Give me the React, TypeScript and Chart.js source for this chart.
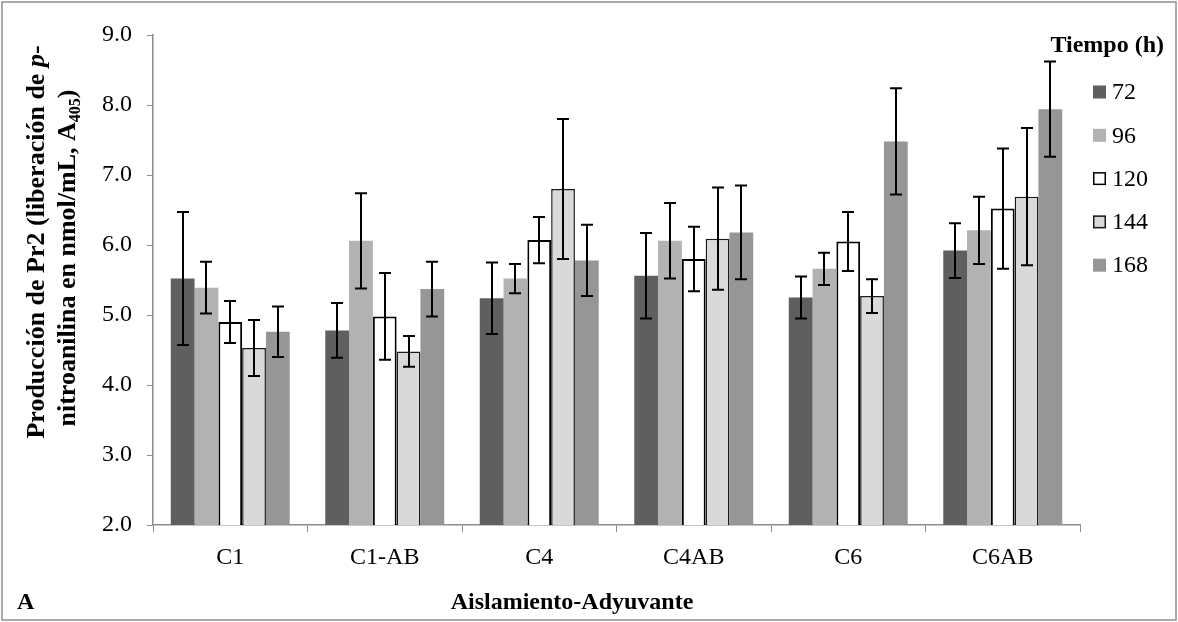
import React, { useEffect, useRef } from "react";
import { Chart, registerables } from "chart.js";

Chart.register(...registerables);

const categories = ["C1", "C1-AB", "C4", "C4AB", "C6", "C6AB"];
const seriesLabels = ["72", "96", "120", "144", "168"];

const v72 = [5.52, 4.78, 5.24, 5.56, 5.25, 5.92];
const e72 = [0.95, 0.39, 0.51, 0.61, 0.3, 0.39];
const v96 = [5.39, 6.06, 5.52, 6.06, 5.66, 6.21];
const e96 = [0.37, 0.68, 0.21, 0.54, 0.23, 0.48];
const v120 = [4.9, 4.98, 6.07, 5.8, 6.05, 6.52];
const e120 = [0.3, 0.62, 0.33, 0.46, 0.42, 0.86];
const v144 = [4.53, 4.48, 6.8, 6.09, 5.27, 6.69];
const e144 = [0.4, 0.22, 1.0, 0.73, 0.24, 0.98];
const v168 = [4.76, 5.37, 5.78, 6.18, 7.48, 7.94];
const e168 = [0.36, 0.39, 0.51, 0.67, 0.76, 0.68];

const yMin = 2;
const yMax = 9;
const yStep = 1;

const legendTitle = "Tiempo (h)";
const xTitle = "Aislamiento-Adyuvante";
const panelLetter = "A";

const FONT = "'Liberation Serif', 'Times New Roman', serif";

const errorBarPlugin = {
  id: "errorBars",
  afterDatasetsDraw(chart: any) {
    const ctx = chart.ctx;
    const yScale = chart.scales.y;
    ctx.save();
    ctx.strokeStyle = "#000";
    ctx.lineWidth = 2;
    chart.data.datasets.forEach((ds: any, di: number) => {
      const meta = chart.getDatasetMeta(di);
      meta.data.forEach((bar: any, i: number) => {
        const v = ds.data[i];
        const e = ds.errors[i];
        const x = Math.round(bar.x);
        const yt = yScale.getPixelForValue(v + e);
        const yb = yScale.getPixelForValue(v - e);
        const cap = 6;
        ctx.beginPath();
        ctx.moveTo(x, yt);
        ctx.lineTo(x, yb);
        ctx.moveTo(x - cap, yt);
        ctx.lineTo(x + cap, yt);
        ctx.moveTo(x - cap, yb);
        ctx.lineTo(x + cap, yb);
        ctx.stroke();
      });
    });
    ctx.restore();
  },
};

const decorPlugin = {
  id: "decor",
  afterDraw(chart: any) {
    const ctx = chart.ctx;
    ctx.save();
    // frame
    ctx.strokeStyle = "#8f8f8f";
    ctx.lineWidth = 1.5;
    ctx.strokeRect(2, 2, chart.width - 4, chart.height - 4);

    // legend
    ctx.fillStyle = "#000";
    ctx.font = `bold 24px ${FONT}`;
    ctx.textAlign = "right";
    ctx.textBaseline = "alphabetic";
    ctx.fillText(legendTitle, 1164, 52);
    ctx.font = `24px ${FONT}`;
    ctx.textAlign = "left";
    ctx.textBaseline = "middle";
    chart.data.datasets.forEach((ds: any, i: number) => {
      const cy = 92 + i * 43.3;
      const bx = 1093;
      const s = 13;
      ctx.fillStyle = ds.backgroundColor;
      ctx.fillRect(bx, cy - s / 2, s, s);
      if (ds.borderWidth > 0) {
        ctx.strokeStyle = ds.borderColor;
        ctx.lineWidth = 1.5;
        ctx.strokeRect(bx + 0.75, cy - s / 2 + 0.75, s - 1.5, s - 1.5);
      }
      ctx.fillStyle = "#000";
      ctx.fillText(ds.label, 1112, cy + 1);
    });

    // x title
    ctx.font = `bold 24px ${FONT}`;
    ctx.textAlign = "center";
    ctx.textBaseline = "middle";
    ctx.fillText(xTitle, 572, 603);

    // panel letter
    ctx.textAlign = "left";
    ctx.fillText(panelLetter, 17, 603);

    // y title (rotated, rich text)
    const drawRich = (segs: any[], x: number, cy: number) => {
      ctx.save();
      ctx.translate(x, cy);
      ctx.rotate(-Math.PI / 2);
      ctx.textAlign = "left";
      ctx.textBaseline = "alphabetic";
      let total = 0;
      segs.forEach((s) => {
        ctx.font = s.font;
        total += ctx.measureText(s.t).width;
      });
      let px = -total / 2;
      segs.forEach((s) => {
        ctx.font = s.font;
        ctx.fillText(s.t, px, s.dy || 0);
        px += ctx.measureText(s.t).width;
      });
      ctx.restore();
    };
    const b = `bold 26px ${FONT}`;
    const bi = `italic bold 26px ${FONT}`;
    const bs = `bold 16px ${FONT}`;
    drawRich(
      [
        { t: "Producción de Pr2 (liberación de ", font: b },
        { t: "p", font: bi },
        { t: "-", font: b },
      ],
      44,
      242
    );
    drawRich(
      [
        { t: "nitroanilina en nmol/mL, A", font: b },
        { t: "405", font: bs, dy: 5 },
        { t: ")", font: b },
      ],
      75,
      258
    );
    ctx.restore();
  },
};

export default function App() {
  const ref = useRef<HTMLCanvasElement>(null);
  useEffect(() => {
    if (!ref.current) return;
    const mk = (label: string, data: number[], errors: number[], bg: string, bc: string, bw: number) => ({
      label,
      data,
      errors,
      backgroundColor: bg,
      borderColor: bc,
      borderWidth: bw,
      borderSkipped: false,
      categoryPercentage: 0.77,
      barPercentage: 1.0,
    });
    const chart = new Chart(ref.current, {
      type: "bar",
      data: {
        labels: categories,
        datasets: [
          mk(seriesLabels[0], v72, e72, "#5f5f5f", "#5f5f5f", 0),
          mk(seriesLabels[1], v96, e96, "#b2b2b2", "#b2b2b2", 0),
          mk(seriesLabels[2], v120, e120, "#ffffff", "#000000", 2),
          mk(seriesLabels[3], v144, e144, "#d9d9d9", "#1a1a1a", 1.5),
          mk(seriesLabels[4], v168, e168, "#969696", "#969696", 0),
        ] as any,
      },
      options: {
        animation: false,
        responsive: false,
        devicePixelRatio: 1,
        layout: { padding: { left: 0, right: 98, top: 35, bottom: 0 } },
        plugins: {
          legend: { display: false },
          tooltip: { enabled: false },
        },
        scales: {
          x: {
            grid: {
              offset: true,
              drawOnChartArea: false,
              drawTicks: true,
              tickLength: 7,
              color: "#8c8c8c",
            },
            border: { color: "#8c8c8c", width: 1.5 },
            ticks: {
              color: "#000",
              font: { family: FONT, size: 24 },
              padding: 11,
            },
            afterFit(scale: any) {
              scale.height = 97;
            },
          },
          y: {
            min: yMin,
            max: yMax,
            grid: {
              drawOnChartArea: false,
              drawTicks: true,
              tickLength: 6,
              color: "#8c8c8c",
            },
            border: { color: "#8c8c8c", width: 1.5 },
            ticks: {
              stepSize: yStep,
              color: "#000",
              font: { family: FONT, size: 24 },
              padding: 15,
              callback: (v: any) => Number(v).toFixed(1),
            },
            afterFit(scale: any) {
              scale.width = 153;
            },
          },
        },
      },
      plugins: [errorBarPlugin, decorPlugin],
    });
    return () => chart.destroy();
  }, []);
  return (
    <div style={{ position: "absolute", left: 0, top: 0, width: 1178, height: 622, background: "#fff" }}>
      <canvas ref={ref} width={1178} height={622} style={{ display: "block" }} />
    </div>
  );
}
